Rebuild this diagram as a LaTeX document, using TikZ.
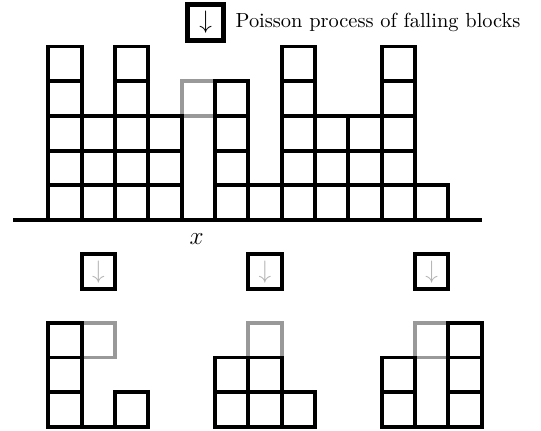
\documentclass[tikz,border=0pt]{standalone}
\tikzset{
  blk/.style={line width=1.8pt},
  ghost/.style={line width=1.8pt,black!40},
  dropbox/.style={draw,line width=1.9pt,minimum width=0.557cm,minimum height=0.58cm,inner sep=0pt,font=\large},
}
\begin{document}
\begin{tikzpicture}[x=0.557cm,y=0.58cm]
    \useasboundingbox (-1.45,-6.05) rectangle (14.78,6.34);
    \draw[ghost] (4,3) rectangle (5,4);
    \foreach \c/\h in {0/5,1/3,2/5,3/3,5/4,6/1,7/5,8/3,9/3,10/5,11/1}
      \foreach \r in {1,...,\h} \draw[blk] (\c,\r-1) rectangle (\c+1,\r);
    \draw[blk] (-1.05,0) -- (13,0);
    \node[font=\large] (xlab) at (4.45,-0.55) {$x$};
    \node[dropbox,line width=2.4pt,minimum width=0.6cm,minimum height=0.6cm] (legend) at (4.72,5.69) {$\downarrow$};
    \node[anchor=west,font=\fontsize{9.7}{12}\selectfont] (legtext) at ([xshift=1pt]legend.east) {Poisson process of falling blocks};
    \foreach \i/\cx in {1/1.5,2/6.5,3/11.5}
      \node[dropbox,text=black!30] (drop\i) at (\cx,-1.49) {$\downarrow$};
    \begin{scope}[shift={(0,-5.96)}]
      \foreach \g in {1,6,11} \draw[ghost] (\g,2) rectangle (\g+1,3);
      \foreach \c/\h in {0/3,2/1,5/2,6/2,7/1,10/2,12/3}
        \foreach \r in {1,...,\h} \draw[blk] (\c,\r-1) rectangle (\c+1,\r);
      \draw[blk] (0,0) -- (3,0);
      \draw[blk] (10,0) -- (13,0);
    \end{scope}
\end{tikzpicture}
\end{document}
